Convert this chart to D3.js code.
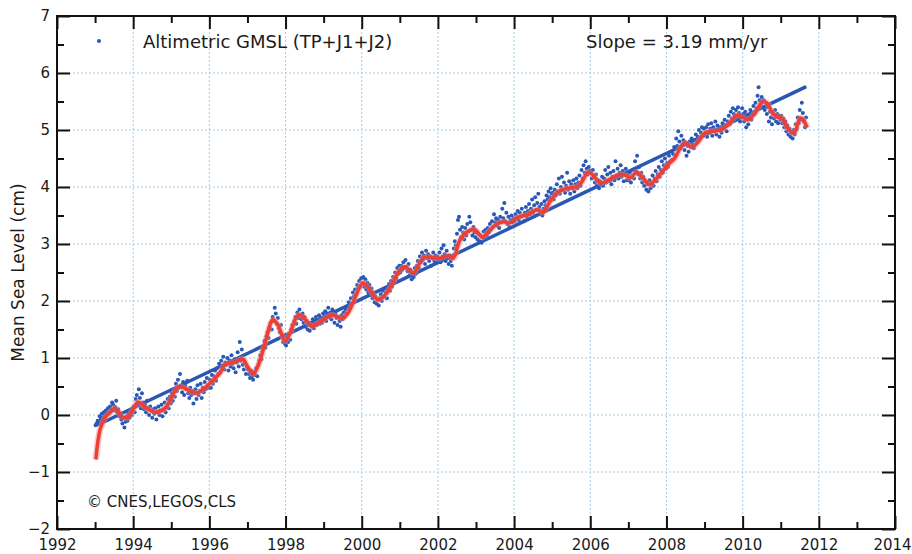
<!DOCTYPE html>
<html>
<head>
<meta charset="utf-8">
<script src="https://cdn.jsdelivr.net/npm/d3@7"></script>
<style>
  body { margin: 0; background: #fff; }
  text { font-family: "DejaVu Sans", sans-serif; fill: #1a1a1a; }
</style>
</head>
<body>
<script>
// chart data
let xTicks = [1992, 1994, 1996, 1998, 2000, 2002, 2004, 2006, 2008, 2010, 2012, 2014];
let yTicks = [-2, -1, 0, 1, 2, 3, 4, 5, 6, 7];
let legendLabel = "Altimetric GMSL (TP+J1+J2)";
let slopeLabel = "Slope = 3.19 mm/yr";
let creditLabel = "\u00a9 CNES,LEGOS,CLS";

// 10-day cycle values (cm), one row per year starting 1993
let gmslFirstYear = 1993;
let cyclesPerYear = 37;
let gmsl = [
  [-0.18,-0.15,-0.10,-0.12,-0.02,-0.08,0.02,-0.05,0.05,0.00,0.08,0.02,0.12,0.05,0.15,0.10,0.22,0.18,0.08,0.14,0.25,0.05,0.10,-0.02,0.03,-0.08,-0.15,-0.05,-0.22,-0.12,-0.02,-0.10,0.02,-0.05,0.08,0.00,0.12],
  [0.15,0.05,0.28,0.35,0.20,0.45,0.30,0.12,0.38,0.22,0.10,0.18,0.05,0.25,0.12,0.00,0.15,0.08,-0.05,0.10,0.02,0.12,-0.08,0.05,0.15,0.00,0.08,0.18,-0.02,0.10,0.22,0.05,0.15,0.28,0.12,0.32,0.20],
  [0.38,0.25,0.45,0.32,0.55,0.42,0.62,0.48,0.72,0.50,0.40,0.58,0.35,0.52,0.45,0.60,0.38,0.30,0.48,0.35,0.42,0.20,0.38,0.45,0.28,0.52,0.35,0.42,0.55,0.30,0.48,0.40,0.58,0.45,0.65,0.52,0.48],
  [0.62,0.48,0.70,0.55,0.68,0.78,0.60,0.82,0.72,0.90,0.75,0.95,0.85,1.02,0.80,0.92,0.88,1.00,0.78,0.95,0.85,1.05,0.90,0.82,0.98,0.75,0.92,1.10,0.85,1.28,0.95,1.15,0.88,0.80,0.92,0.72,0.85],
  [0.80,0.72,0.65,0.78,0.68,0.62,0.75,0.70,0.82,0.68,0.88,0.95,1.05,0.98,1.12,1.20,1.30,1.18,1.38,1.45,1.35,1.55,1.62,1.50,1.72,1.65,1.88,1.78,1.60,1.70,1.52,1.45,1.58,1.38,1.28,1.40,1.25],
  [1.22,1.35,1.28,1.42,1.32,1.50,1.58,1.48,1.65,1.72,1.60,1.80,1.70,1.85,1.75,1.68,1.78,1.62,1.72,1.55,1.65,1.50,1.58,1.48,1.62,1.55,1.68,1.52,1.60,1.72,1.58,1.65,1.75,1.60,1.70,1.62,1.78],
  [1.70,1.82,1.65,1.78,1.88,1.72,1.80,1.68,1.85,1.75,1.62,1.78,1.70,1.58,1.72,1.65,1.55,1.75,1.68,1.80,1.72,1.85,1.78,1.90,1.98,1.88,2.05,1.95,2.15,2.08,2.20,2.12,2.28,2.22,2.35,2.25,2.40],
  [2.30,2.42,2.25,2.38,2.20,2.32,2.15,2.28,2.10,2.22,2.05,2.15,1.98,2.08,1.95,2.02,1.92,2.05,2.12,2.00,2.18,2.08,2.22,2.15,2.05,2.20,2.30,2.18,2.35,2.25,2.42,2.32,2.50,2.40,2.58,2.48,2.62],
  [2.50,2.62,2.55,2.68,2.58,2.72,2.60,2.52,2.65,2.45,2.55,2.38,2.50,2.42,2.58,2.48,2.62,2.70,2.58,2.78,2.68,2.85,2.72,2.80,2.65,2.88,2.75,2.82,2.70,2.78,2.62,2.75,2.85,2.70,2.80,2.68,2.78],
  [2.72,2.85,2.68,2.92,2.78,2.98,2.82,2.70,2.88,2.75,2.65,2.80,2.70,2.62,2.78,2.92,3.05,2.98,3.18,3.42,3.48,3.25,3.12,3.30,3.20,3.08,3.28,3.15,3.35,3.22,3.48,3.38,3.25,3.15,3.30,3.20,3.12],
  [3.20,3.08,3.18,3.05,3.15,3.02,3.12,3.22,3.10,3.25,3.15,3.28,3.20,3.35,3.25,3.40,3.30,3.52,3.38,3.45,3.32,3.42,3.28,3.48,3.38,3.62,3.45,3.72,3.40,3.55,3.35,3.48,3.30,3.42,3.50,3.38,3.45],
  [3.40,3.52,3.45,3.58,3.42,3.55,3.48,3.62,3.50,3.40,3.55,3.65,3.48,3.58,3.70,3.52,3.62,3.78,3.55,3.68,3.82,3.60,3.72,3.88,3.65,3.55,3.70,3.50,3.62,3.75,3.68,3.85,3.78,3.92,3.82,3.98,3.88],
  [3.90,3.78,3.95,3.85,4.05,3.92,4.15,3.88,4.00,4.18,3.95,4.08,3.90,4.02,4.25,3.95,4.10,3.88,4.05,3.98,4.12,3.92,4.05,4.15,3.98,4.08,4.20,4.02,4.30,4.15,4.38,4.25,4.45,4.32,4.22,4.35,4.28],
  [4.25,4.15,4.30,4.18,4.08,4.22,4.02,4.12,3.98,4.10,4.05,4.18,4.02,4.15,4.30,4.08,4.22,4.35,4.10,4.25,4.05,4.18,4.28,4.12,4.45,4.20,4.32,4.15,4.25,4.38,4.18,4.28,4.10,4.22,4.32,4.12,4.20],
  [4.12,4.25,4.08,4.18,4.30,4.15,4.45,4.28,4.55,4.22,4.35,4.15,4.25,4.08,4.18,4.02,4.10,3.95,4.05,3.92,4.12,3.98,4.08,4.20,4.02,4.15,4.28,4.10,4.22,4.35,4.18,4.30,4.45,4.25,4.38,4.50,4.32],
  [4.42,4.35,4.55,4.45,4.62,4.48,4.58,4.70,4.55,4.85,4.72,4.98,4.80,4.68,4.90,4.75,4.82,4.65,4.78,4.55,4.72,4.62,4.80,4.70,4.85,4.75,4.68,4.82,4.92,4.78,4.88,5.00,4.85,4.95,5.05,4.90,5.02],
  [4.92,5.05,4.88,5.10,4.95,5.02,5.12,4.90,5.05,4.98,5.15,4.92,5.08,5.00,4.88,5.05,4.95,5.12,5.02,5.18,5.08,4.98,5.15,5.25,5.10,5.32,5.20,5.38,5.28,5.18,5.35,5.22,5.40,5.30,5.15,5.25,5.38],
  [5.28,5.15,5.32,5.05,5.22,5.10,5.25,5.35,5.18,5.30,5.42,5.28,5.48,5.38,5.60,5.75,5.52,5.45,5.58,5.40,5.52,5.35,5.48,5.28,5.40,5.15,5.32,5.22,5.10,5.28,5.20,5.35,5.15,5.28,5.12,5.25,5.18],
  [5.25,5.12,5.20,5.05,5.15,4.98,5.08,4.92,5.02,4.88,4.95,4.85,5.00,4.92,5.10,5.02,5.22,5.12,5.35,5.18,5.48,5.30,5.15,5.05,5.22]
];

// smoothed (red) curve
let smoothYears = [1993.02,1993.13,1993.26,1993.40,1993.52,1993.71,1993.84,1994.00,1994.13,1994.31,1994.57,1994.84,1995.00,1995.18,1995.36,1995.55,1995.70,1996.02,1996.28,1996.41,1996.67,1996.88,1997.00,1997.15,1997.30,1997.46,1997.67,1997.80,1997.99,1998.12,1998.33,1998.46,1998.69,1998.90,1999.22,1999.48,1999.64,1999.82,2000.03,2000.16,2000.43,2000.66,2000.82,2001.00,2001.14,2001.35,2001.61,2001.79,2002.06,2002.27,2002.40,2002.58,2002.76,2002.97,2003.16,2003.29,2003.50,2003.71,2003.89,2004.10,2004.34,2004.60,2004.76,2004.94,2005.13,2005.39,2005.65,2005.78,2005.94,2006.07,2006.26,2006.47,2006.73,2006.91,2007.04,2007.22,2007.38,2007.56,2007.70,2007.88,2008.04,2008.22,2008.36,2008.49,2008.67,2008.83,2009.01,2009.22,2009.41,2009.62,2009.85,2009.98,2010.14,2010.33,2010.51,2010.64,2010.77,2010.90,2011.03,2011.17,2011.30,2011.37,2011.51,2011.59,2011.69];
let smoothValues = [-0.78,-0.26,-0.05,0.05,0.12,-0.03,-0.05,0.10,0.23,0.14,0.05,0.12,0.30,0.49,0.47,0.40,0.39,0.56,0.74,0.88,0.93,0.98,0.85,0.72,0.90,1.26,1.67,1.58,1.30,1.44,1.75,1.72,1.56,1.63,1.75,1.70,1.79,2.05,2.32,2.25,2.02,2.14,2.33,2.54,2.60,2.49,2.75,2.77,2.75,2.80,2.75,3.07,3.21,3.25,3.12,3.19,3.33,3.39,3.37,3.47,3.51,3.60,3.56,3.74,3.90,3.98,4.00,4.09,4.26,4.21,4.07,4.12,4.21,4.21,4.16,4.26,4.16,4.04,4.12,4.26,4.39,4.51,4.68,4.77,4.70,4.79,4.95,4.98,5.00,5.09,5.26,5.23,5.18,5.30,5.49,5.47,5.32,5.23,5.21,5.05,4.95,4.96,5.21,5.18,5.04];

// linear trend (blue)
let trendYears = [1993.05, 2011.67];
let trendValues = [-0.18, 5.76];

// layout
let svgWidth = 912, svgHeight = 554;
let plot = { left: 57, right: 895, top: 16, bottom: 529 };
let majorLen = 13, minorLen = 7;

let svg = d3.select("body").append("svg")
  .attr("width", svgWidth)
  .attr("height", svgHeight);

let xScale = d3.scaleLinear().domain([1992, 2014]).range([plot.left, plot.right]);
let yScale = d3.scaleLinear().domain([-2, 7]).range([plot.bottom, plot.top]);

let xMinor = d3.range(1993, 2014, 2);
let yMinor = d3.range(-1.5, 7, 1);

// grid
let grid = svg.append("g")
  .attr("stroke", "#a4cbe6")
  .attr("stroke-width", 1)
  .attr("stroke-dasharray", "2,2");
grid.selectAll(".gx").data(xTicks.slice(1, -1)).join("line")
  .attr("x1", d => xScale(d)).attr("x2", d => xScale(d))
  .attr("y1", plot.top).attr("y2", plot.bottom);
grid.selectAll(".gy").data(yTicks.slice(1, -1)).join("line")
  .attr("x1", plot.left).attr("x2", plot.right)
  .attr("y1", d => yScale(d)).attr("y2", d => yScale(d));

// data points
let points = [];
gmsl.forEach((row, i) => row.forEach((v, j) => {
  points.push({ t: gmslFirstYear + i + (j + 0.5) / cyclesPerYear, v: v });
}));
svg.append("g").selectAll("circle").data(points).join("circle")
  .attr("cx", d => xScale(d.t))
  .attr("cy", d => yScale(d.v))
  .attr("r", 2)
  .attr("fill", "#2a58b8");

// trend line
let trend = trendYears.map((t, i) => ({ t: t, v: trendValues[i] }));
svg.append("path").datum(trend)
  .attr("d", d3.line().x(d => xScale(d.t)).y(d => yScale(d.v)))
  .attr("fill", "none")
  .attr("stroke", "#2a56b4")
  .attr("stroke-width", 3.5);

// smoothed curve
let smooth = smoothYears.map((t, i) => ({ t: t, v: smoothValues[i] }));
let smoothLine = d3.line().curve(d3.curveCatmullRom.alpha(0.5))
  .x(d => xScale(d.t)).y(d => yScale(d.v));
svg.append("path").datum(smooth)
  .attr("d", smoothLine)
  .attr("fill", "none")
  .attr("stroke", "#f58a80")
  .attr("stroke-opacity", 0.45)
  .attr("stroke-width", 6.5);
svg.append("path").datum(smooth)
  .attr("d", smoothLine)
  .attr("fill", "none")
  .attr("stroke", "#ef3e34")
  .attr("stroke-width", 3.5);

// axes with inward ticks on all four sides
function styleAxis(g) {
  g.select(".domain").remove();
  g.selectAll(".tick line").attr("stroke", "#111").attr("stroke-width", 2);
  g.selectAll(".tick text").attr("font-size", 15).attr("fill", "#1a1a1a")
    .attr("font-family", "DejaVu Sans, sans-serif");
}
svg.append("g").attr("transform", `translate(0,${plot.bottom})`)
  .call(d3.axisBottom(xScale).tickValues(xTicks).tickFormat(d3.format("d"))
    .tickSizeInner(-majorLen).tickSizeOuter(0))
  .call(styleAxis)
  .selectAll(".tick text").attr("y", 10)
  .attr("dx", d => d === 2014 ? -3 : 0);
svg.append("g").attr("transform", `translate(0,${plot.bottom})`)
  .call(d3.axisBottom(xScale).tickValues(xMinor).tickFormat("")
    .tickSizeInner(-minorLen).tickSizeOuter(0))
  .call(styleAxis);
svg.append("g").attr("transform", `translate(0,${plot.top})`)
  .call(d3.axisTop(xScale).tickValues(xTicks).tickFormat("")
    .tickSizeInner(-majorLen).tickSizeOuter(0))
  .call(styleAxis);
svg.append("g").attr("transform", `translate(0,${plot.top})`)
  .call(d3.axisTop(xScale).tickValues(xMinor).tickFormat("")
    .tickSizeInner(-minorLen).tickSizeOuter(0))
  .call(styleAxis);
svg.append("g").attr("transform", `translate(${plot.left},0)`)
  .call(d3.axisLeft(yScale).tickValues(yTicks).tickFormat(d3.format("d"))
    .tickSizeInner(-majorLen).tickSizeOuter(0).tickPadding(7))
  .call(styleAxis);
svg.append("g").attr("transform", `translate(${plot.left},0)`)
  .call(d3.axisLeft(yScale).tickValues(yMinor).tickFormat("")
    .tickSizeInner(-minorLen).tickSizeOuter(0))
  .call(styleAxis);
svg.append("g").attr("transform", `translate(${plot.right},0)`)
  .call(d3.axisRight(yScale).tickValues(yTicks).tickFormat("")
    .tickSizeInner(-majorLen).tickSizeOuter(0))
  .call(styleAxis);
svg.append("g").attr("transform", `translate(${plot.right},0)`)
  .call(d3.axisRight(yScale).tickValues(yMinor).tickFormat("")
    .tickSizeInner(-minorLen).tickSizeOuter(0))
  .call(styleAxis);

// frame
svg.append("rect")
  .attr("x", plot.left).attr("y", plot.top)
  .attr("width", plot.right - plot.left).attr("height", plot.bottom - plot.top)
  .attr("fill", "none").attr("stroke", "#111").attr("stroke-width", 2);

// y label
svg.append("text")
  .attr("transform", `translate(24,${(plot.top + plot.bottom) / 2}) rotate(-90)`)
  .attr("text-anchor", "middle")
  .attr("font-size", 17)
  .text("Mean Sea Level (cm)");

// legend
svg.append("circle").attr("cx", 99).attr("cy", 41).attr("r", 2).attr("fill", "#2a58b8");
svg.append("text").attr("x", 143).attr("y", 48).attr("font-size", 18).text(legendLabel);
svg.append("text").attr("x", 586).attr("y", 48).attr("font-size", 18).text(slopeLabel);
svg.append("text").attr("x", 87).attr("y", 507).attr("font-size", 15).text(creditLabel);
</script>
</body>
</html>
